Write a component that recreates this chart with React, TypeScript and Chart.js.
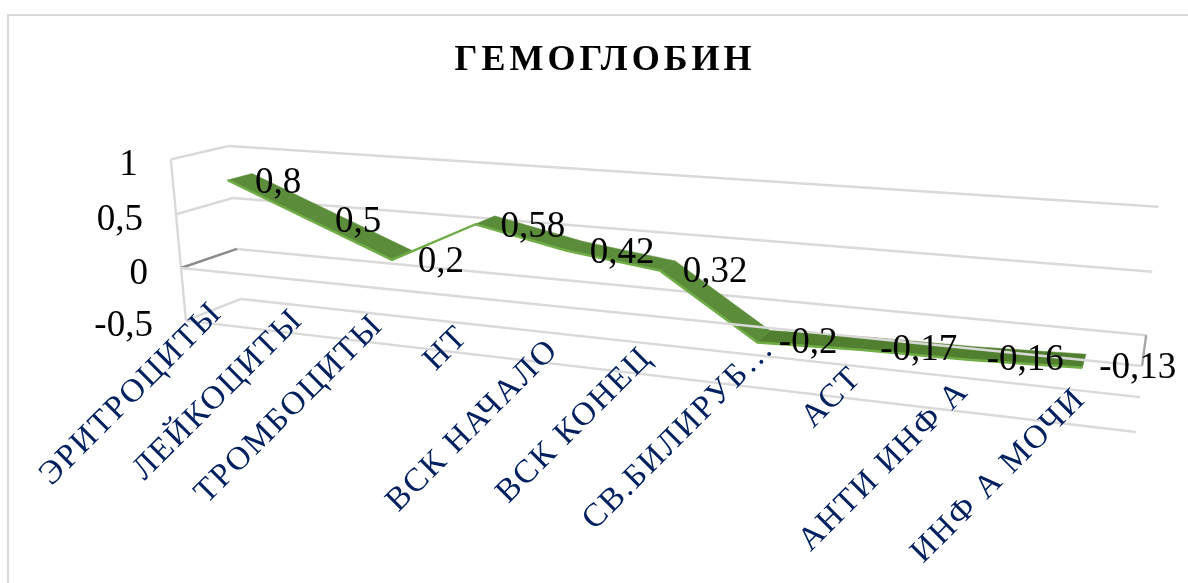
import React, { useEffect, useRef } from "react";
import { Chart, registerables, LineController, CategoryScale, LinearScale } from "chart.js";

const chartTitle = "ГЕМОГЛОБИН";
const categories = ["ЭРИТРОЦИТЫ", "ЛЕЙКОЦИТЫ", "ТРОМБОЦИТЫ", "НТ", "ВСК НАЧАЛО", "ВСК КОНЕЦ", "СВ.БИЛИРУБ…", "АСТ", "АНТИ ИНФ А", "ИНФ А МОЧИ"];
const values = [0.8, 0.5, 0.2, 0.58, 0.42, 0.32, -0.2, -0.17, -0.16, -0.13];
const valueMin = -0.5;
const valueMax = 1;
const valueStep = 0.5;

// Camera of the 3-D plot: u along categories 0..1, v the value, z depth 0..1.
const CAM = {
  a: -0.22, b: -0.0208, c: 0.058,
  x0: 181, xu: 709.8, xv: -13.7, xz: 69.7,
  y0: 268, yu: 17.5, yv: -112, yz: -4.6,
};
const Z_FRONT = 0.28;
const Z_BACK = 0.72;
function project(u: number, v: number, z: number) {
  const w = 1 + CAM.a * u + CAM.b * v + CAM.c * z;
  return {
    x: (CAM.x0 + CAM.xu * u + CAM.xv * v + CAM.xz * z) / w,
    y: (CAM.y0 + CAM.yu * u + CAM.yv * v + CAM.yz * z) / w,
  };
}
const fmt = (n: number) => String(n).replace(".", ",");
const SERIF = "'Liberation Serif', serif";

// Per-label nudges of the rotated axis text (Excel places them unevenly).
const CAT_NUDGE = [[-6, -17], [-3, -19], [-4, -23], [-4, -22], [-3, -19], [-3, -22], [21, -43], [5, -26], [3, -25], [5, -31]];

class ProjectedCategoryScale extends CategoryScale {
  static id = "projCategory";
  static defaults = CategoryScale.defaults;
  _computeLabelArea() {
    return undefined;
  }
  _computeLabelItems(area: any) {
    const items = (super._computeLabelItems as any)(area);
    items.forEach((it: any, i: number) => {
      const u = (this as any).getDecimalForPixel((this as any).getPixelForTick(i));
      const p = project(u, valueMin, 0);
      it.textOffset = 0;
      it.options.translation = [p.x + CAT_NUDGE[i][0], p.y + CAT_NUDGE[i][1]];
      it.options.rotation = -Math.PI / 4;
      it.options.textAlign = "right";
      it.options.textBaseline = "middle";
    });
    return items;
  }
  drawLabels(area: any) {
    const ctx = (this as any).ctx;
    ctx.save();
    ctx.letterSpacing = "2px";
    (super.drawLabels as any)(area);
    ctx.restore();
  }
}

class ProjectedLinearScale extends LinearScale {
  static id = "projLinear";
  static defaults = LinearScale.defaults;
  _computeLabelArea() {
    return undefined;
  }
  _computeLabelItems(area: any) {
    const items = (super._computeLabelItems as any)(area);
    items.forEach((it: any, i: number) => {
      const p = project(0, (this as any).ticks[i].value, 0);
      it.textOffset = 0;
      it.options.translation = [p.x - 33, p.y + 6];
      it.options.rotation = 0;
      it.options.textAlign = "right";
      it.options.textBaseline = "middle";
    });
    return items;
  }
}

class RibbonController extends LineController {
  static id = "ribbon";
  static defaults = LineController.defaults;
  static overrides = LineController.overrides;
  _uv(i: number) {
    const meta = (this as any)._cachedMeta;
    const parsed = (this as any).getParsed(i);
    return { u: meta.xScale.getDecimalForPixel(meta.xScale.getPixelForValue(parsed.x)), v: parsed.y };
  }
  update(mode: any) {
    super.update(mode);
    const meta = (this as any)._cachedMeta;
    meta.data.forEach((pt: any, i: number) => {
      const { u, v } = this._uv(i);
      const q = project(u, v, Z_FRONT);
      pt.x = q.x;
      pt.y = q.y;
    });
  }
  draw() {
    const meta = (this as any)._cachedMeta;
    const ctx = (this as any).chart.ctx;
    const n = meta.data.length;
    ctx.save();
    for (let i = 0; i < n - 1; i++) {
      const a = this._uv(i);
      const b = this._uv(i + 1);
      const p = [project(a.u, a.v, Z_FRONT), project(b.u, b.v, Z_FRONT), project(b.u, b.v, Z_BACK), project(a.u, a.v, Z_BACK)];
      ctx.beginPath();
      p.forEach((q, k) => (k ? ctx.lineTo(q.x, q.y) : ctx.moveTo(q.x, q.y)));
      ctx.closePath();
      ctx.fillStyle = i >= 6 ? "#50802f" : "#5b8c3a";
      ctx.strokeStyle = ctx.fillStyle;
      ctx.lineWidth = 0.5;
      ctx.fill();
      ctx.stroke();
    }
    ctx.restore();
    super.draw();
  }
}

Chart.register(...registerables, ProjectedCategoryScale, ProjectedLinearScale, RibbonController);

function seg(ctx: any, a: any, b: any, color: string, width = 2.4) {
  ctx.beginPath();
  ctx.moveTo(a.x, a.y);
  ctx.lineTo(b.x, b.y);
  ctx.strokeStyle = color;
  ctx.lineWidth = width;
  ctx.stroke();
}

const GRID = "#d9d9d9";
const wallPlugin = {
  id: "wall",
  afterLayout(chart: any) {
    const t = chart.titleBlock;
    if (t && !t._spaced) {
      const orig = t.draw;
      t.draw = function () {
        t.ctx.save();
        t.ctx.letterSpacing = "4px";
        t.ctx.translate(11, 0);
        orig.call(t);
        t.ctx.restore();
      };
      t._spaced = true;
    }
  },
  beforeDraw(chart: any) {
    const { ctx, width, height } = chart;
    const ys = chart.scales.y;
    ctx.save();
    ctx.fillStyle = "#fff";
    ctx.fillRect(0, 0, width, height);
    ctx.strokeStyle = GRID;
    ctx.lineWidth = 2;
    ctx.beginPath();
    ctx.moveTo(8, height + 2);
    ctx.lineTo(8, 15);
    ctx.lineTo(width + 2, 15);
    ctx.stroke();
    const tv = ys.ticks.map((t: any) => t.value);
    tv.forEach((v: number) => {
      seg(ctx, project(0, v, 1), project(1, v, 1), GRID);
      if (v !== 0) seg(ctx, project(0, v, 0), project(0, v, 1), GRID);
    });
    seg(ctx, project(0, valueMax, 0), project(0, valueMin, 0), GRID);
    seg(ctx, project(0, valueMin, 0), project(1, valueMin, 0), GRID);
    seg(ctx, project(0, 0, 0), project(0, 0, 1), "#8a8a8a");
    seg(ctx, project(1, 0, 0), project(1, 0, 1), "#a6a6a6");
    ctx.restore();
  },
  afterDatasetsDraw(chart: any) {
    const { ctx } = chart;
    ctx.save();
    seg(ctx, project(0, 0, 0), project(1, 0, 0), GRID);
    const xs = chart.scales.x;
    ctx.font = "37px " + SERIF;
    ctx.fillStyle = "#000";
    ctx.textAlign = "left";
    ctx.textBaseline = "middle";
    values.forEach((val, i) => {
      const u = xs.getDecimalForPixel(xs.getPixelForValue(i));
      const c = project(u, val, 0.5);
      ctx.fillText(fmt(val), c.x + 15, c.y + 7);
    });
    ctx.restore();
  },
};

export default function App() {
  const ref = useRef<HTMLCanvasElement>(null);
  useEffect(() => {
    const chart = new Chart(ref.current!, {
      type: "ribbon" as any,
      data: {
        labels: categories,
        datasets: [{
          data: values,
          borderColor: "#70ad47",
          borderWidth: 2.5,
          pointRadius: 0,
          tension: 0,
          fill: false,
          clip: false,
        } as any],
      },
      plugins: [wallPlugin],
      options: {
        responsive: false,
        animation: false,
        events: [],
        layout: { padding: 0 },
        plugins: {
          legend: { display: false },
          tooltip: { enabled: false },
          title: {
            display: true,
            text: chartTitle,
            color: "#000",
            font: { family: SERIF, size: 36, weight: "bold" },
            padding: { top: 39, bottom: 20 },
          },
        },
        scales: {
          x: {
            type: "projCategory",
            offset: true,
            grid: { display: false },
            border: { display: false },
            ticks: {
              autoSkip: false,
              minRotation: 45,
              maxRotation: 45,
              color: "#002060",
              font: { family: SERIF, size: 33 },
            },
          },
          y: {
            type: "projLinear",
            min: valueMin,
            max: valueMax,
            grid: { display: false },
            border: { display: false },
            ticks: {
              stepSize: valueStep,
              color: "#000",
              font: { family: SERIF, size: 37 },
              callback: (v: any) => fmt(v),
            },
          },
        },
      } as any,
    });
    return () => chart.destroy();
  }, []);
  return <canvas ref={ref} width={1188} height={583} style={{ position: "fixed", left: 0, top: 0, width: 1188, height: 583, display: "block" }} />;
}
